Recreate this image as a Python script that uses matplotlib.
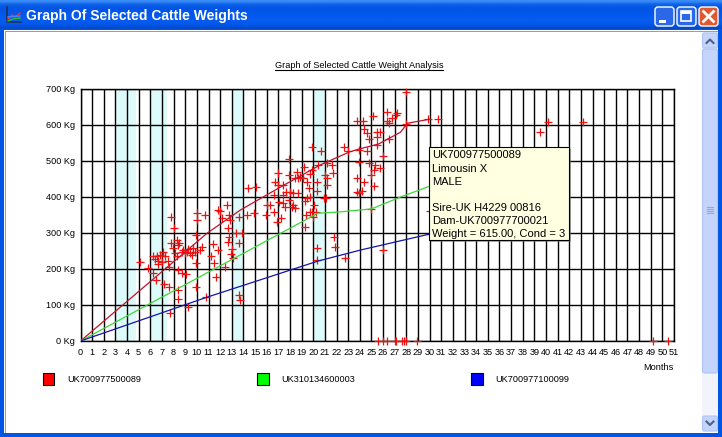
import matplotlib
matplotlib.use('Agg')
import matplotlib.pyplot as plt
from matplotlib.patches import Rectangle, FancyBboxPatch
import numpy as np

# ---------------- data ----------------
months_ticks = list(range(0, 52))
kg_ticks = list(range(0, 701, 100))
kg_labels = [f"{v} Kg" for v in kg_ticks]

series_names = ["UK700977500089", "UK310134600003", "UK700977100099"]
legend_colors = ["#FF0000", "#00FF00", "#0000FF"]
line_colors = ["#C4102C", "#3AD83A", "#1414A8"]

red_line_m = [0, 10.9, 13.75, 17.2, 20.6, 23.1, 23.9, 25.6, 27.5, 28.1, 30.0]
red_line_kg = [0, 300, 364, 428, 489, 525, 533, 547, 580, 605, 616]
green_line_m = [0, 20.4, 22.1, 25.0, 27.5, 30.0]
green_line_kg = [0, 355, 358, 367, 400, 430]
blue_line_m = [0, 10.9, 20.4, 24.1, 30.0]
blue_line_kg = [0, 122, 222, 253, 297]

red_pts = [
    (5.1,219),(5.8,204),(6.2,190),(6.5,169),
    (6.26,236),(6.55,236),(6.84,239),(6.4,227),(6.69,223),(6.98,220),(7.12,248),(7.27,236),(7.55,222),(6.69,214),
    (7.2,158),(7.6,151),(7.6,206),(7.8,273),(7.8,345),(8.0,313),
    (8.3,281),(8.45,273),(8.4,267),
    (7.98,257),(8.13,244),(8.27,236),(8.7,248),(8.84,253),(8.99,244),(9.13,248),(9.27,255),(9.42,245),(9.56,239),(9.7,257),(9.85,248),
    (8.4,197),(8.7,190),(9.1,186),(8.4,142),(8.4,116),(9.2,95),(7.7,77),
    (9.9,217),(9.9,294),(10.0,355),(10.0,336),(10.7,350),(9.9,151),(10.3,253),(10.4,260),(10.8,121),
    (11.4,269),(11.65,177),(11.5,217),(11.8,253),(11.2,236),(11.85,364),(12.2,341),(12.6,378),(12.75,350),(12.4,206),
    (12.7,276),(12.8,290),(13.0,255),(12.9,242),(13.1,230),(13.4,299),(13.85,299),(13.65,273),(13.6,345),(14.3,350),(13.6,128),(13.7,114),
    (12.0,362),(12.7,313),(12.85,336),(14.9,355),(14.4,424),(15.1,429),
    (16.0,378),(16.3,378),(15.95,350),(16.6,359),(16.85,331),(17.2,341),(17.4,382),(17.6,373),(17.1,385),(18.2,373),(18.4,369),(18.3,378),
    (16.6,406),(17.0,433),(17.4,433),(17.4,406),(17.7,415),(17.9,392),(18.0,413),(18.3,410),(18.7,410),
    (17.0,466),(16.7,443),(17.9,461),(18.4,452),(18.7,452),(18.9,456),(19.2,484),(18.6,469),(19.1,452),
    (17.95,506),(19.9,540),(20.65,528),(19.45,443),(19.6,424),(19.7,463),(19.9,475),(19.5,396),(19.7,401),(19.3,389),
    (20.3,443),(20.35,417),(20.45,489),(21.0,461),(21.2,433),(20.9,396),(21.2,494),(21.7,466),(21.6,489),(21.2,452),(21.1,396),
    (20.1,378),(19.9,359),(20.0,345),(19.7,359),(20.2,359),(19.4,350),(19.25,318),
    (20.3,258),(20.35,225),(21.75,290),(21.9,262),(22.75,231),
    (22.6,540),(23.0,528),(23.75,611),(24.3,611),(25.1,626),(26.3,635),(27.1,628),(26.3,611),(26.8,619),(26.5,605),(27.2,633),(28.0,692),
    (24.4,588),(24.6,577),(24.8,560),(25.5,581),(25.75,581),(25.5,567),(26.5,560),(25.5,544),(26.0,514),
    (23.9,531),(24.6,528),(23.9,498),(24.75,494),(25.3,489),(25.2,475),(25.75,480),(25.0,461),
    (23.75,452),(24.4,441),(23.75,415),(24.2,417),(23.9,410),(25.2,431),
    (25.0,367),(26.0,253),(28.0,603),(29.9,616),(30.7,616),(30.0,362),(30.0,297),
    (39.5,581),(40.2,609),(43.2,609),
    (25.6,0),(26.0,0),(26.3,0),(27.0,0),(27.1,0),(27.6,0),(27.8,0),(28.0,0),(28.9,0),(49.2,0),(50.5,0),
]
red_months = [p[0] for p in red_pts]
red_kg = [p[1] for p in red_pts]

shade_bands = [(3.0, 4.8), (6.0, 7.4), (13.0, 14.0), (20.0, 21.0)]

tooltip_lines = ["UK700977500089", "Limousin X", "MALE", "",
                 "Sire-UK H4229 00816", "Dam-UK700977700021",
                 "Weight = 615.00, Cond = 3"]

window_title = "Graph Of Selected Cattle Weights"
chart_title = "Graph of Selected Cattle Weight Analysis"

# ---------------- figure ----------------
W, H = 722, 437
fig = plt.figure(figsize=(W/100, H/100), dpi=100)
fig.patch.set_facecolor('white')

bg = fig.add_axes([0, 0, 1, 1], zorder=0)
bg.set_xlim(0, W); bg.set_ylim(H, 0); bg.axis('off')

SF = 'Liberation Sans'

# window frame
frame_blue = '#0055E5'
bg.add_patch(Rectangle((0, 0), W, H, facecolor=frame_blue, edgecolor='none'))
bg.add_patch(Rectangle((4, 30), W-8, H-34, facecolor='white', edgecolor='none'))
bg.add_patch(Rectangle((4.5, 30.5), 1.5, H-35, facecolor='#9D9D9D', edgecolor='none'))
bg.add_patch(Rectangle((4.5, 30.5), W-9, 1.5, facecolor='#9D9D9D', edgecolor='none'))

# title bar gradient
grad = np.array([
    [0x3A, 0x8C, 0xF8], [0x2F, 0x80, 0xF4], [0x16, 0x6B, 0xEC], [0x0A, 0x5E, 0xE6],
    [0x05, 0x58, 0xE4], [0x03, 0x56, 0xE4], [0x02, 0x55, 0xE5], [0x02, 0x55, 0xE6],
    [0x02, 0x56, 0xE8], [0x03, 0x58, 0xEA], [0x04, 0x59, 0xEC], [0x05, 0x5A, 0xEE],
    [0x06, 0x5B, 0xEF], [0x06, 0x5B, 0xF0], [0x06, 0x5B, 0xF0], [0x05, 0x5A, 0xEE],
    [0x04, 0x58, 0xEA], [0x03, 0x54, 0xE2], [0x02, 0x50, 0xD8], [0x01, 0x4A, 0xCC],
]) / 255.0
grad_img = np.repeat(grad[:, None, :], 4, axis=1)
bg.imshow(grad_img, extent=(0, W, 29, 0), aspect='auto', interpolation='bilinear', zorder=1)
bg.text(26, 16, window_title, color='white', fontsize=10, fontweight='bold',
        family=SF, va='center', ha='left', zorder=3)
# icon
bg.plot([7, 7, 21], [7, 22, 22], color='#20305A', lw=1.2, zorder=3)
bg.plot([8, 12, 15, 20], [19, 15, 17, 13], color='#FF3030', lw=1, zorder=3)
bg.plot([8, 13, 20], [21, 19, 18], color='#20C020', lw=1, zorder=3)
bg.plot([8, 20], [17, 16], color='#5080FF', lw=1, zorder=3)

# buttons
def button(x, color):
    bg.add_patch(FancyBboxPatch((x+1, 7), 19, 19, boxstyle='round,pad=0,rounding_size=3',
                                facecolor=color, edgecolor='white', lw=1, zorder=3))
button(654, '#2A68E8')
button(676, '#2A68E8')
button(698, '#E2572C')
bg.add_patch(Rectangle((659, 20), 7, 2.5, facecolor='white', edgecolor='none', zorder=4))
bg.add_patch(Rectangle((681, 11), 10, 10, facecolor='none', edgecolor='white', lw=1.2, zorder=4))
bg.add_patch(Rectangle((681, 11), 10, 2.5, facecolor='white', edgecolor='none', zorder=4))
bg.plot([703.5, 713.5], [11.5, 21.5], color='white', lw=2, zorder=4)
bg.plot([703.5, 713.5], [21.5, 11.5], color='white', lw=2, zorder=4)

# scrollbar
bg.add_patch(Rectangle((702, 32), 16, 400, facecolor='#F1F4FC', edgecolor='none', zorder=1))
def sbtn(y0, y1):
    bg.add_patch(FancyBboxPatch((702.5, y0), 15, y1-y0, boxstyle='round,pad=0,rounding_size=2',
                                facecolor='#C4D4FB', edgecolor='#B0C4F4', lw=0.8, zorder=2))
sbtn(33, 48)
sbtn(49, 373)
sbtn(416, 431)
for gy in (207, 209, 211, 213):
    bg.plot([707, 713], [gy, gy], color='#8EA8E8', lw=0.8, zorder=3)
bg.plot([706.5, 710, 713.5], [43, 39.5, 43], color='#4D6185', lw=1.5, zorder=3)
bg.plot([706.5, 710, 713.5], [421.5, 425, 421.5], color='#4D6185', lw=1.5, zorder=3)

# chart title
title_txt = bg.text(359, 65, chart_title, fontsize=6.6, family=SF, ha='center', va='center',
                    color='black', zorder=3)

# legend
leg_x = [42.5, 257, 471]
leg_tx = [67.5, 281.5, 495.5]
for i in range(3):
    bg.add_patch(Rectangle((leg_x[i], 373), 11.5, 11.5, facecolor=legend_colors[i],
                           edgecolor='black', lw=0.8, zorder=3))
    bg.text(leg_tx[i], 379, series_names[i], fontsize=6.6, family=SF, ha='left',
            va='center', zorder=3)
bg.text(673, 367.5, "Months", fontsize=6.6, family=SF, ha='right', va='center', zorder=3)

# ---------------- main plot ----------------
L, R, T, B = 80.5, 674, 89, 341
ax = fig.add_axes([L/W, (H-B)/H, (R-L)/W, (B-T)/H], zorder=2)
ax.set_facecolor('white')
ax.set_xlim(0, 51)
ax.set_ylim(0, 700)
for a, b in shade_bands:
    ax.axvspan(a, b, color='#DDFBFB', lw=0, zorder=0)
ax.set_xticks(months_ticks)
ax.set_xticklabels([str(m) for m in months_ticks], fontsize=6.6, family=SF)
ax.set_yticks(kg_ticks)
ax.set_yticklabels(kg_labels, fontsize=6.6, family=SF)
ax.tick_params(length=0, pad=4)
ax.tick_params(axis='x', pad=5)
ax.grid(True, color='black', lw=1.0, zorder=1)
ax.set_axisbelow(True)
for s in ax.spines.values():
    s.set_color('black'); s.set_linewidth(1.0)

ax.scatter(red_months, red_kg, marker='+', s=30, color='#F01010', linewidths=0.9,
           zorder=3, clip_on=False)
ax.plot(red_line_m, red_line_kg, color=line_colors[0], lw=0.9, zorder=4)
ax.plot(green_line_m, green_line_kg, color=line_colors[1], lw=0.9, zorder=4)
ax.plot(blue_line_m, blue_line_kg, color=line_colors[2], lw=0.9, zorder=4)

# ---------------- tooltip overlay ----------------
top = fig.add_axes([0, 0, 1, 1], zorder=5)
top.set_xlim(0, W); top.set_ylim(H, 0); top.axis('off')
top.patch.set_alpha(0)
tx0, ty0, tx1, ty1 = 429, 147, 569, 240
top.add_patch(Rectangle((tx0+2, ty0+2), tx1-tx0, ty1-ty0, facecolor='#7A7A7A', edgecolor='none', alpha=0.6))
top.add_patch(Rectangle((tx0, ty0), tx1-tx0, ty1-ty0, facecolor='#FFFFE1', edgecolor='black', lw=0.8))
for i, line in enumerate(tooltip_lines):
    top.text(tx0+3, ty0+8.5+i*13.1, line, fontsize=8, family=SF, ha='left', va='center')

# underline chart title
fig.canvas.draw()
bb = title_txt.get_window_extent(renderer=fig.canvas.get_renderer())
uy = H - bb.y0 + 0.5
bg.plot([bb.x0, bb.x1], [uy, uy], color='black', lw=0.8, zorder=3)

fig.savefig('out.png', dpi=100)
